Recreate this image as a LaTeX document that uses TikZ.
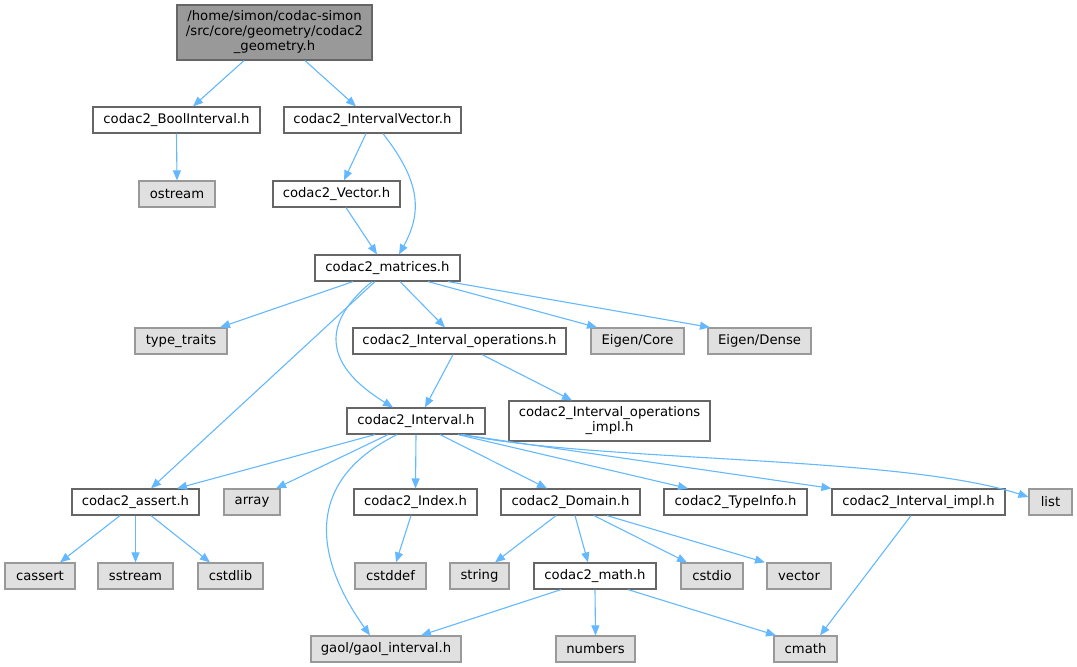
\documentclass[tikz,border=0pt]{standalone}
\usepackage{fontspec}
\setmainfont{DejaVu Sans}
\usepackage{xcolor}
\usetikzlibrary{arrows.meta}
\definecolor{edgeblue}{HTML}{63B8FF}
\definecolor{boxline}{HTML}{666666}
\definecolor{sysfill}{HTML}{E0E0E0}
\definecolor{sysline}{HTML}{999999}
\definecolor{rootfill}{HTML}{999999}
\tikzset{hfile/.style={draw=boxline,fill=white,line width=1.2pt,minimum height=26,inner sep=0pt,
        font=\fontsize{13.2}{15}\selectfont},
    sysfile/.style={hfile,draw=sysline,fill=sysfill},
    rootfile/.style={hfile,fill=rootfill,align=center},
    incl/.style={draw=edgeblue,line width=1.1pt,-{Triangle[length=10pt,width=8pt]}}}

\begin{document}
\begin{tikzpicture}[x=1pt,y=-1pt]
\useasboundingbox (0,0) rectangle (1077,667);
% include tree
\node[rootfile,minimum width=195,minimum height=55] (geom) at (274.5,32.5)
    {/home/simon/codac-simon\\/src/core/geometry/codac2\\\_geometry.h};
\node[hfile,minimum width=167] (bool) at (176.5,120) {codac2\_BoolInterval.h};
\node[hfile,minimum width=177] (ivec) at (372.5,120) {codac2\_IntervalVector.h};
\node[sysfile,minimum width=76] (ostream) at (177,194) {ostream};
\node[hfile,minimum width=127] (vec) at (336.5,194) {codac2\_Vector.h};
\node[hfile,minimum width=145] (mat) at (387.5,268) {codac2\_matrices.h};
\node[sysfile,minimum width=92] (ttraits) at (181,341) {type\_traits};
\node[hfile,minimum width=213] (iops) at (459.5,341) {codac2\_Interval\_operations.h};
\node[sysfile,minimum width=93] (ecore) at (637.5,341) {Eigen/Core};
\node[sysfile,minimum width=103] (edense) at (759.5,341) {Eigen/Dense};
\node[hfile,minimum width=201,minimum height=40,align=center] (iopsimpl) at (609.5,421)
    {codac2\_Interval\_operations\\\_impl.h};
\node[hfile,minimum width=138] (itv) at (416,421) {codac2\_Interval.h};
\node[hfile,minimum width=127] (assert) at (135.5,502) {codac2\_assert.h};
\node[sysfile,minimum width=56] (array) at (252,502) {array};
\node[hfile,minimum width=123] (index) at (415.5,502) {codac2\_Index.h};
\node[hfile,minimum width=139] (domain) at (570.5,502) {codac2\_Domain.h};
\node[hfile,minimum width=143] (tinfo) at (735.5,502) {codac2\_TypeInfo.h};
\node[hfile,minimum width=173] (iimpl) at (918.5,502) {codac2\_Interval\_impl.h};
\node[sysfile,minimum width=43] (list) at (1050.5,502) {list};
\node[sysfile,minimum width=70] (cassert) at (40,576) {cassert};
\node[sysfile,minimum width=75] (sstream) at (135.5,576) {sstream};
\node[sysfile,minimum width=65] (cstdlib) at (230.5,576) {cstdlib};
\node[sysfile,minimum width=71] (cstddef) at (390.5,576) {cstddef};
\node[sysfile,minimum width=59] (string) at (479.5,576) {string};
\node[hfile,minimum width=122] (math) at (595,576) {codac2\_math.h};
\node[sysfile,minimum width=62] (cstdio) at (712,576) {cstdio};
\node[sysfile,minimum width=64] (vector) at (799,576) {vector};
\node[sysfile,minimum width=150] (gaol) at (386,649) {gaol/gaol\_interval.h};
\node[sysfile,minimum width=79] (numbers) at (595.5,649) {numbers};
\node[sysfile,minimum width=63] (cmath) at (805.5,649) {cmath};

\draw[incl] ([xshift=-30.5pt]geom.south) -- ([xshift=16.5pt]bool.north);
\draw[incl] ([xshift=30.5pt]geom.south) -- ([xshift=-16.5pt]ivec.north);
\draw[incl] (bool.south) -- (ostream.north);
\draw[incl] ([xshift=-6.5pt]ivec.south) -- ([xshift=7.5pt]vec.north);
\draw[incl] ([xshift=10.5pt]ivec.south) .. controls +(35,45) and +(25,-45) .. ([xshift=11.5pt]mat.north);
\draw[incl] ([xshift=9.5pt]vec.south) -- ([xshift=-10.5pt]mat.north);
\draw[incl] ([xshift=-34.5pt]mat.south) -- ([xshift=39pt]ttraits.north);
\draw[incl] ([xshift=-12.5pt]mat.south) -- ([xshift=15.5pt]assert.north);
\draw[incl] ([xshift=-15.5pt]mat.south) .. controls +(-55,45) and +(-65,-40) .. ([xshift=-23pt]itv.north);
\draw[incl] ([xshift=12.5pt]mat.south) -- ([xshift=-14.5pt]iops.north);
\draw[incl] ([xshift=40.5pt]mat.south) -- ([xshift=-40.5pt]ecore.north);
\draw[incl] ([xshift=60.5pt]mat.south) -- ([xshift=-49.5pt]edense.north);
\draw[incl] ([xshift=-6.5pt]iops.south) -- ([xshift=9pt]itv.north);
\draw[incl] ([xshift=22.5pt]iops.south) -- ([xshift=-37.5pt]iopsimpl.north);
\draw[incl] ([xshift=-41pt]itv.south) -- ([xshift=41.5pt]assert.north);
\draw[incl] ([xshift=-28pt]itv.south) -- ([xshift=24pt]array.north);
\draw[incl] ([xshift=-19pt]itv.south) .. controls +(-100,50) and +(-50,-70) .. ([xshift=-16pt]gaol.north);
\draw[incl] (itv.south) -- (index.north);
\draw[incl] ([xshift=24pt]itv.south) -- ([xshift=-23.5pt]domain.north);
\draw[incl] ([xshift=42pt]itv.south) -- ([xshift=-47.5pt]tinfo.north);
\draw[incl] ([xshift=45pt]itv.south) -- (iimpl.north west);
\draw[incl] ([xshift=47pt]itv.south) .. controls +(137,28) and +(-129,-42) .. ([yshift=5pt]list.west);
\draw[incl] ([xshift=-15.5pt]assert.south) -- ([xshift=20pt]cassert.north);
\draw[incl] (assert.south) -- (sstream.north);
\draw[incl] ([xshift=15.5pt]assert.south) -- ([xshift=-20.5pt]cstdlib.north);
\draw[incl] ([xshift=-4.5pt]index.south) -- ([xshift=5.5pt]cstddef.north);
\draw[incl] ([xshift=-14.5pt]domain.south) -- ([xshift=15.5pt]string.north);
\draw[incl] ([xshift=4.5pt]domain.south) -- ([xshift=-7pt]math.north);
\draw[incl] ([xshift=23.5pt]domain.south) -- ([xshift=-25pt]cstdio.north);
\draw[incl] ([xshift=36.5pt]domain.south) -- ([xshift=-34pt]vector.north);
\draw[incl] ([xshift=-7.5pt]iimpl.south) -- ([xshift=14.5pt]cmath.north);
\draw[incl] ([xshift=-34pt]math.south) -- ([xshift=35pt]gaol.north);
\draw[incl] (math.south) -- (numbers.north);
\draw[incl] ([xshift=33pt]math.south) -- ([xshift=-29.5pt]cmath.north);
\end{tikzpicture}
\end{document}
